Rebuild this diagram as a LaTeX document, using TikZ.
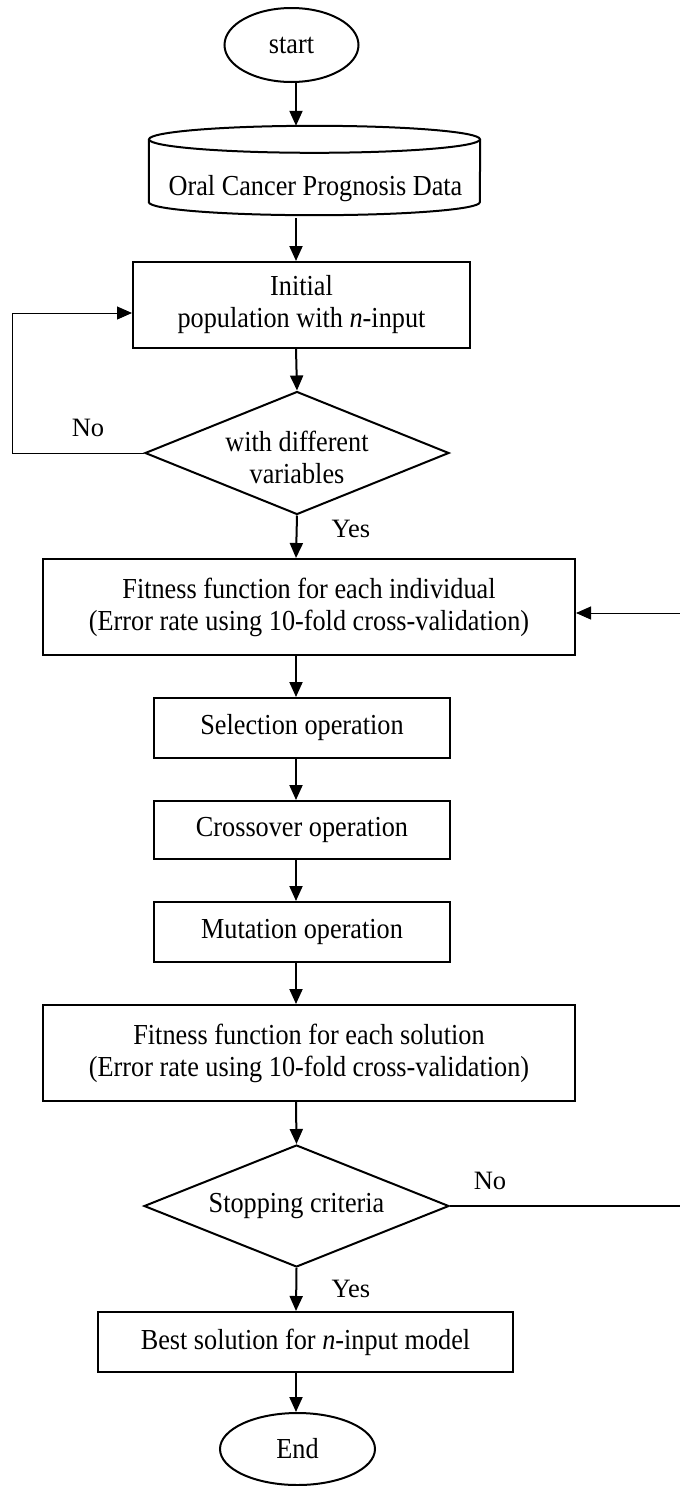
\documentclass[tikz,border=0pt]{standalone}
\usepackage{fontspec}
\setmainfont{Liberation Serif}
\newfontfamily\narrowserif{Liberation Serif}[FakeStretch=0.905]
\usetikzlibrary{shapes.geometric,arrows.meta}
\begin{document}
\begin{tikzpicture}[x=1pt,y=1pt,
  every node/.style={font=\narrowserif\fontsize{29pt}{32pt}\selectfont},
  box/.style={draw,line width=2pt,rectangle,inner sep=0pt,align=center},
  term/.style={draw,line width=2pt,ellipse,inner sep=0pt},
  decision/.style={draw,line width=2pt,diamond,inner sep=0pt},
  flow/.style={line width=2pt,-{Triangle[length=15pt,width=13pt]}},
  back/.style={line width=1pt,-{Triangle[length=15pt,width=13pt]}},
  tag/.style={inner sep=0pt,anchor=base,font=\rmfamily\fontsize{26.5pt}{31pt}\selectfont}]
\useasboundingbox (0,0) rectangle (680,-1486);

% vertical axis shared by the main arrows
\coordinate (spine) at (296,0);

% terminals, data store, process boxes and decisions
\node[term,minimum width=134pt,minimum height=74pt] (start) at (291.5,-45) {start};

\node[inner sep=0pt,minimum width=331pt,minimum height=89pt] (data) at (314.5,-170.5) {};
\draw[line width=2pt] ([yshift=-13.5pt]data.north) ellipse (165.5 and 13.5);
\draw[line width=2pt] ([yshift=-13.5pt]data.north west) -- ([yshift=13pt]data.south west)
  arc (180:360:165.5 and 13) -- ([yshift=-13.5pt]data.north east);
\node[inner sep=0pt,anchor=base] (datatext) at (315.5,-195) {Oral Cancer Prognosis Data};

\node[box,minimum width=337pt,minimum height=86pt] (init) at (301.5,-305)
  {Initial\\population with \textit{n}-input};

\node[decision,minimum width=304pt,minimum height=123pt,
  label={[align=center,yshift=-4pt]center:with different\\variables}] (d1) at (297,-453) {};

\node[box,minimum width=532pt,minimum height=96pt] (fit1) at (309,-607)
  {Fitness function for each individual\\(Error rate using 10-fold cross-validation)};

\node[box,minimum width=296pt,minimum height=60pt] (sel) at (302,-728) {Selection operation};
\node[box,minimum width=296pt,minimum height=58pt] (cross) at (302,-830) {Crossover operation};
\node[box,minimum width=296pt,minimum height=60pt] (mut) at (302,-932) {Mutation operation};

\node[box,minimum width=532pt,minimum height=96pt] (fit2) at (309,-1053)
  {Fitness function for each solution\\(Error rate using 10-fold cross-validation)};

\node[decision,minimum width=305pt,minimum height=122pt,
  label={center:Stopping criteria}] (d2) at (296.5,-1206) {};

\node[box,minimum width=415pt,minimum height=60pt] (best) at (305.5,-1342)
  {Best solution for \textit{n}-input model};

\node[term,minimum width=155pt,minimum height=72pt] (end) at (297.5,-1449) {End};

% main flow
\draw[flow] (start.south -| spine) -- (data.north -| spine);
\draw[flow] ([yshift=-3pt]data.south -| spine) -- (init.north -| spine);
\draw[flow] (init.south -| spine) -- (d1.north);
\draw[flow] (d1.south) -- (fit1.north -| spine);
\draw[flow] (fit1.south -| spine) -- (sel.north -| spine);
\draw[flow] (sel.south -| spine) -- (cross.north -| spine);
\draw[flow] (cross.south -| spine) -- (mut.north -| spine);
\draw[flow] (mut.south -| spine) -- (fit2.north -| spine);
\draw[flow] (fit2.south -| spine) -- (d2.north);
\draw[flow] (d2.south) -- (best.north -| spine);
\draw[flow] (best.south -| spine) -- (end.north -| spine);

% branch labels
\node[tag] (no1) at (88,-436) {No};
\node[tag] (yes1) at (351,-537) {Yes};
\node[tag] (no2) at (490,-1189) {No};
\node[tag] (yes2) at (351,-1297) {Yes};

% feedback loops
\coordinate (loopL) at (12,-453);
\draw[back] (d1.west) -- (loopL) |- ([yshift=-8pt]init.west);

\coordinate (edgeA) at (680,-613);
\draw[back] (edgeA) -- (edgeA -| fit1.east);

\coordinate (edgeB) at (680,-1205);
\draw[line width=2pt] (d2.east) -- (d2.east -| edgeB);
\end{tikzpicture}
\end{document}
